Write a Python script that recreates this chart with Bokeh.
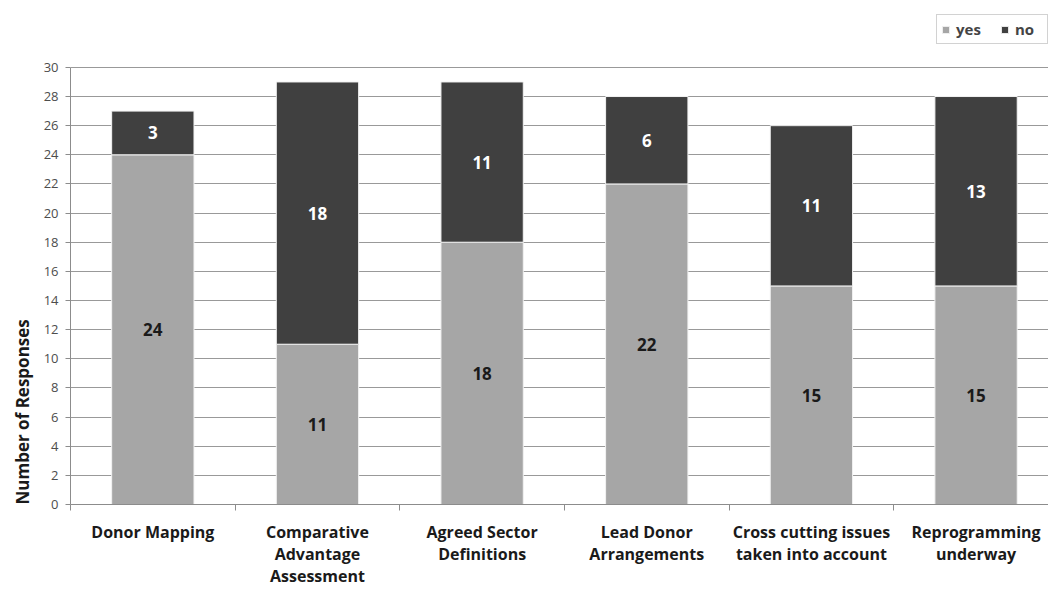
from bokeh.plotting import figure
from bokeh.models import (Range1d, FixedTicker, ColumnDataSource, LabelSet, Title,
                          Legend, LegendItem, LinearAxis)
from bokeh.core.properties import value
from bokeh.embed import file_html
from bokeh.resources import INLINE

categories = ["Donor Mapping", "Comparative\nAdvantage\nAssessment", "Agreed Sector\nDefinitions",
              "Lead Donor\nArrangements", "Cross cutting issues\ntaken into account", "Reprogramming\nunderway"]
yes = [24, 11, 18, 22, 15, 15]
no = [3, 18, 11, 6, 11, 13]
y_ticks = list(range(0, 31, 2))

YES_C = "#a6a6a6"
NO_C = "#404040"
FONT = "Open Sans"

xs = [i + 0.5 for i in range(len(categories))]
src = ColumnDataSource(dict(
    x=xs, yes=yes, no=no,
    total=[y + n for y, n in zip(yes, no)],
    yes_mid=[y / 2 for y in yes],
    no_mid=[y + n / 2 for y, n in zip(yes, no)],
    yes_txt=[str(v) for v in yes],
    no_txt=[str(v) for v in no],
))

# frame spans from the legend's top down to the zero line; the value axis stops at 30
p = figure(width=1048, height=589, output_backend="svg", toolbar_location=None,
           x_range=Range1d(0, 5.94), y_range=Range1d(0, 33.63),
           x_axis_location=None, y_axis_location=None,
           min_border_left=70, min_border_right=0, min_border_top=14, min_border_bottom=84)
p.outline_line_color = None
p.background_fill_color = "white"
p.border_fill_color = "white"

r_yes = p.vbar(x="x", top="yes", bottom=0, width=0.5, source=src,
               fill_color=YES_C, line_color="#f2f2f2", line_width=1)
r_no = p.vbar(x="x", top="total", bottom="yes", width=0.5, source=src,
              fill_color=NO_C, line_color="#f2f2f2", line_width=1)

# y axis
yax = LinearAxis(ticker=FixedTicker(ticks=y_ticks), bounds=(0, 30))
yax.axis_line_color = "#8c8c8c"
yax.major_tick_line_color = "#8c8c8c"
yax.major_tick_out = 5
yax.major_tick_in = 0
yax.minor_tick_line_color = None
yax.major_label_text_font = FONT
yax.major_label_text_font_size = "13px"
yax.major_label_text_color = "#4d4d4d"
yax.major_label_standoff = 7
p.add_layout(yax, "left")

# y axis title
p.add_layout(Title(text="Number of Responses", align="left", offset=0,
                   text_font=FONT, text_font_style="bold", text_font_size="17px",
                   text_color="#1a1a1a", standoff=14), "left")

# x axis: labels at category centers, tick marks at boundaries
xax = LinearAxis(ticker=FixedTicker(ticks=xs, minor_ticks=list(range(0, 6))))
xax.major_label_overrides = {x: c for x, c in zip(xs, categories)}
xax.axis_line_color = "#8c8c8c"
xax.major_tick_line_color = None
xax.minor_tick_line_color = "#8c8c8c"
xax.minor_tick_out = 6
xax.minor_tick_in = 0
xax.major_label_text_font = FONT
xax.major_label_text_font_style = "bold"
xax.major_label_text_font_size = "16px"
xax.major_label_text_color = "#1a1a1a"
xax.major_label_standoff = 10
xax.major_label_text_line_height = 1.0
p.add_layout(xax, "below")

p.xgrid.visible = False
p.ygrid.ticker = FixedTicker(ticks=y_ticks)
p.ygrid.grid_line_color = "#999999"
p.ygrid.grid_line_width = 1

# data labels
p.add_layout(LabelSet(x="x", y="yes_mid", text="yes_txt", source=src,
                      text_align="center", text_baseline="middle",
                      text_font=value(FONT), text_font_style="bold", text_font_size="17px",
                      text_color="#1a1a1a"))
p.add_layout(LabelSet(x="x", y="no_mid", text="no_txt", source=src,
                      text_align="center", text_baseline="middle",
                      text_font=value(FONT), text_font_style="bold", text_font_size="17px",
                      text_color="white"))

legend = Legend(items=[LegendItem(label="yes", renderers=[r_yes]),
                       LegendItem(label="no", renderers=[r_no])],
                orientation="horizontal", location="top_right")
legend.label_text_font = FONT
legend.label_text_font_style = "bold"
legend.label_text_font_size = "15px"
legend.glyph_width = 9
legend.glyph_height = 9
legend.label_standoff = 6
legend.label_width = 28
legend.spacing = 16
legend.padding = 4
legend.margin = 0
legend.border_line_color = "#a6a6a6"
legend.background_fill_alpha = 1
p.add_layout(legend, "center")

open("out.html", "w").write(file_html(p, INLINE))
